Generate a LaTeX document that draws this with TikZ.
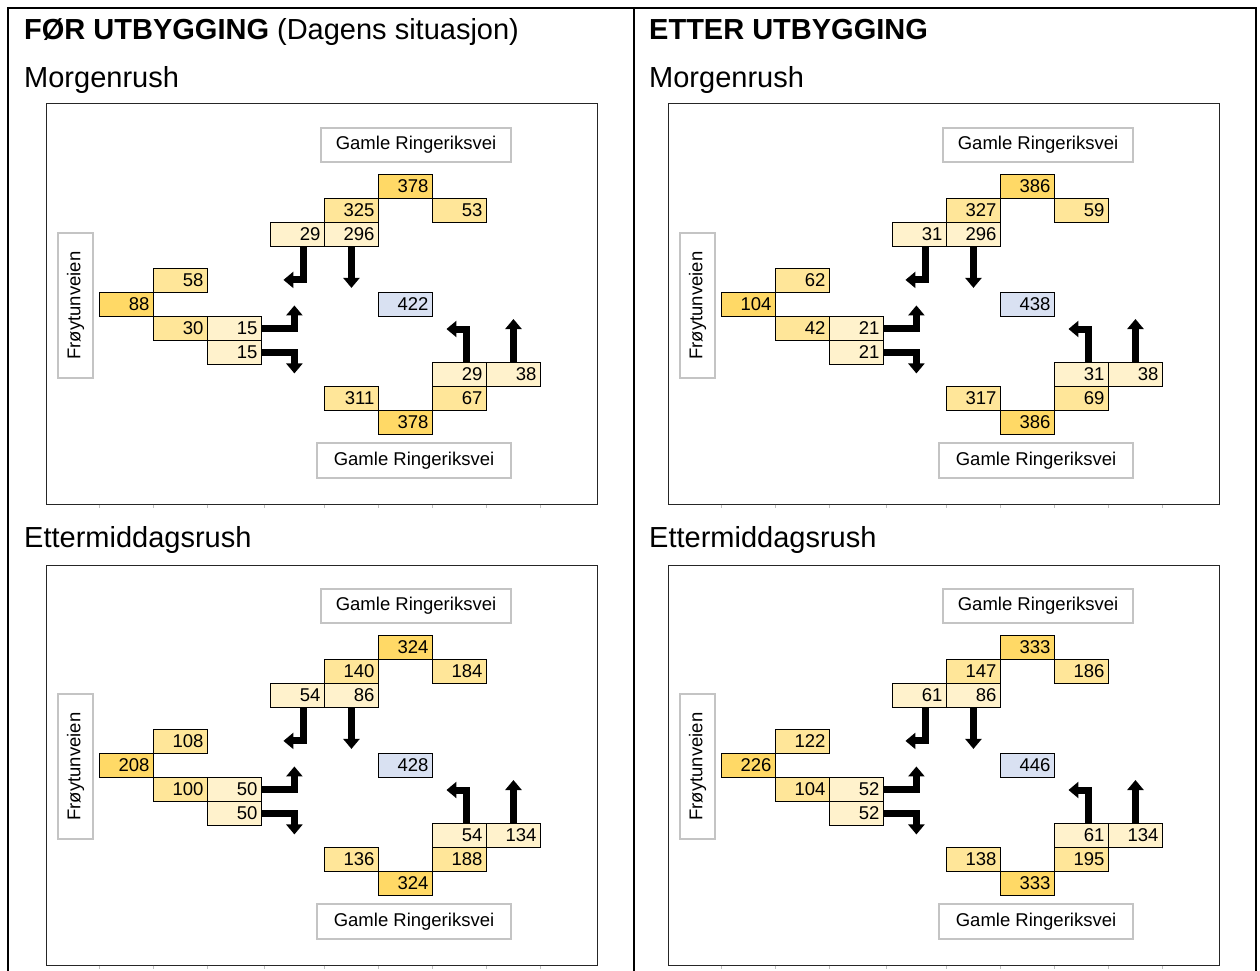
\documentclass[tikz,border=0pt]{standalone}
\usepackage{fontspec}
\setmainfont{Liberation Sans}
\usetikzlibrary{arrows.meta}

\definecolor{darkgold}{HTML}{FFD966}
\definecolor{midgold}{HTML}{FFE699}
\definecolor{lightgold}{HTML}{FFF2CC}
\definecolor{paleblue}{HTML}{D9E1F2}
\definecolor{lblgray}{HTML}{C4C4C4}

\newcommand\headfont{\fontsize{29}{34}\selectfont}
\newcommand\numfont{\fontsize{18.5}{22}\selectfont}

% traffic counts of one junction: upper approach, left approach, total, lower approach
\newcommand\setupper[8]{\def\vTa{#1}\def\vTb{#2}\def\vTc{#3}\def\vTd{#4}\def\vTe{#5}\def\vLa{#6}\def\vLb{#7}\def\vLc{#8}}
\newcommand\setlower[8]{\def\vLd{#1}\def\vLe{#2}\def\vC{#3}\def\vBa{#4}\def\vBb{#5}\def\vBc{#6}\def\vBd{#7}\def\vBe{#8}}

\tikzset{
  cell/.style={draw=black, line width=0.9pt, anchor=north west, minimum width=54pt,
    minimum height=24pt, inner xsep=4pt, inner ysep=0pt, text width=46pt,
    align=right, font=\numfont},
  dk/.style={cell, fill=darkgold},
  md/.style={cell, fill=midgold},
  lt/.style={cell, fill=lightgold},
  bl/.style={cell, fill=paleblue},
  roadlabel/.style={draw=lblgray, line width=1.2pt, fill=white, inner sep=0pt, font=\numfont},
  panelbox/.style={draw=black!85, line width=1pt, inner sep=0pt},
  flow/.style={line width=7pt, line join=miter, -{Triangle[width=16pt,length=10pt]}},
  heading/.style={anchor=base west, inner sep=0pt, font=\headfont},
  tick/.style={draw=black!25, line width=0.8pt}
}

% one junction diagram; #1 name prefix, #2/#3 offset
\newcommand\trafficpanel[3]{%
\begin{scope}[shift={(#2,#3)}]
  \node[panelbox, minimum width=551pt, minimum height=400pt] (#1-frame) at (321.5,304) {};
  \foreach \tx in {99,153,207,264,324,378,432,486,540}
    \draw[tick] (\tx,504.5) -- (\tx,508);
  \node[roadlabel, minimum width=190pt, minimum height=34pt] (#1-roadN) at (416,145) {Gamle Ringeriksvei};
  \node[roadlabel, minimum width=194pt, minimum height=35pt] (#1-roadS) at (414,460.5) {Gamle Ringeriksvei};
  \node[roadlabel, minimum width=145pt, minimum height=35pt, rotate=90] (#1-roadW) at (75.5,305.5) {Frøytunveien};
  % upper approach
  \node[dk] (#1-t1) at (378,174) {\vTa};
  \node[md] (#1-t2) at (324,198) {\vTb};
  \node[md] (#1-t3) at (432,198) {\vTc};
  \node[lt] (#1-t4) at (270,222) {\vTd};
  \node[lt] (#1-t5) at (324,222) {\vTe};
  % left approach
  \node[md] (#1-l1) at (153,268) {\vLa};
  \node[dk] (#1-l2) at (99,292) {\vLb};
  \node[md] (#1-l3) at (153,316) {\vLc};
  \node[lt] (#1-l4) at (207,316) {\vLd};
  \node[lt] (#1-l5) at (207,340) {\vLe};
  % junction total
  \node[bl] (#1-c) at (378,292) {\vC};
  % lower approach
  \node[lt] (#1-b1) at (432,362) {\vBa};
  \node[lt] (#1-b2) at (486,362) {\vBb};
  \node[md] (#1-b3) at (324,386) {\vBc};
  \node[md] (#1-b4) at (432,386) {\vBd};
  \node[dk] (#1-b5) at (378,410) {\vBe};
  % turning movements
  \draw[flow] ([xshift=6.5pt]#1-t4.south) -- ++(0,33) -- ++(-20.5,0);
  \draw[flow] (#1-t5.south) -- ++(0,41);
  \draw[flow] (#1-l4.east) -- ++(32.5,0) -- ++(0,-23);
  \draw[flow] (#1-l5.east) -- ++(32.5,0) -- ++(0,21);
  \draw[flow] ([xshift=7pt]#1-b1.north) -- ++(0,-33) -- ++(-20,0);
  \draw[flow] (#1-b2.north) -- ++(0,-43);
\end{scope}}

\begin{document}
\begin{tikzpicture}[x=1pt,y=-1pt]
  \useasboundingbox (0,0) rectangle (1260,971);
  \begin{scope}
    \clip (0,0) rectangle (1260,971);
    % table frame
    \draw[line width=2pt] (8,990) -- (8,8) -- (1256,8) -- (1256,990);
    \draw[line width=2pt] (634,8) -- (634,990);

    \node[heading] (hleft) at (24,40) {\textbf{FØR UTBYGGING} (Dagens situasjon)};
    \node[heading] (hright) at (649,40) {\textbf{ETTER UTBYGGING}};
    \node[heading] (mleft) at (24,88) {Morgenrush};
    \node[heading] (mright) at (649,88) {Morgenrush};
    \node[heading] (eleft) at (24,547) {Ettermiddagsrush};
    \node[heading] (eright) at (649,547) {Ettermiddagsrush};

    \setupper{378}{325}{53}{29}{296}{58}{88}{30}
    \setlower{15}{15}{422}{29}{38}{311}{67}{378}
    \trafficpanel{ml}{0}{0}

    \setupper{386}{327}{59}{31}{296}{62}{104}{42}
    \setlower{21}{21}{438}{31}{38}{317}{69}{386}
    \trafficpanel{mr}{622}{0}

    \setupper{324}{140}{184}{54}{86}{108}{208}{100}
    \setlower{50}{50}{428}{54}{134}{136}{188}{324}
    \trafficpanel{el}{0}{461}

    \setupper{333}{147}{186}{61}{86}{122}{226}{104}
    \setlower{52}{52}{446}{61}{134}{138}{195}{333}
    \trafficpanel{er}{622}{461}
  \end{scope}
\end{tikzpicture}
\end{document}
